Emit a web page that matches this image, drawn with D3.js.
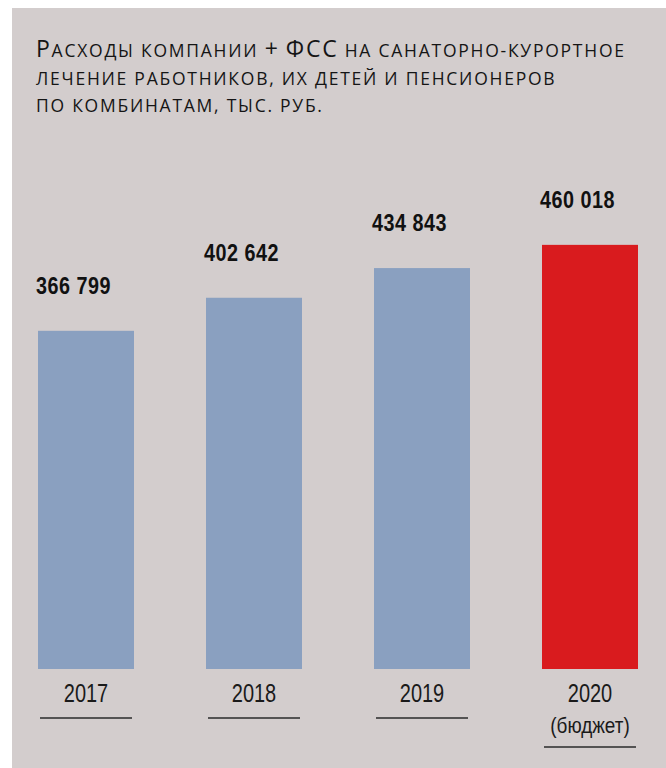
<!DOCTYPE html>
<html>
<head>
<meta charset="utf-8">
<script src="https://cdn.jsdelivr.net/npm/d3@7"></script>
<style>
  html, body { margin: 0; padding: 0; background: #fff; }
  svg { display: block; }
</style>
</head>
<body>
<script>
"use strict";

var years = ["2017", "2018", "2019", "2020"]
var values = [366799, 402642, 434843, 460018]
var notes = ["", "", "", "(бюджет)"]
var titleLines = [
    "Расходы компании + ФСС на санаторно-курортное",
    "лечение работников, их детей и пенсионеров",
    "по комбинатам, тыс. руб."
]

var width = 666
var height = 768
var baseY = 669
var narrow = "'Liberation Sans', Arial, sans-serif"

var svg = d3.select("body").append("svg")
    .attr("width", width)
    .attr("height", height)

// panel
svg.append("rect")
    .attr("x", 12)
    .attr("y", 8)
    .attr("width", width - 12)
    .attr("height", height - 8)
    .attr("fill", "#d3cdcd")

// split a line into runs of real capitals and small caps
function runs(str) {
    var out = []
    str.split("").forEach(function(ch) {
        var big = ch !== ch.toLowerCase() || ch === "+"
        var last = out[out.length - 1]
        if (last && last.big === big) last.text += ch
        else out.push({big: big, text: ch})
    })
    return out
}

var title = svg.append("g")
    .attr("font-family", "'Open Sans', 'Noto Sans', sans-serif")
    .attr("fill", "#151515")

title.selectAll("text")
    .data(titleLines)
    .enter().append("text")
    .attr("x", 36)
    .attr("y", function(d, i) { return 57 + i * 27.5 })
    .attr("letter-spacing", 1.75)
    .selectAll("tspan")
    .data(function(d) { return runs(d) })
    .enter().append("tspan")
    .attr("font-size", function(d) { return d.big ? 23 : 17.5 })
    .text(function(d) { return d.text.toUpperCase() })

var x = d3.scaleBand()
    .domain(years)
    .range([38, 638])
    .paddingInner(0.4286)
    .paddingOuter(0)

var y = d3.scaleLinear()
    .domain([0, 500000])
    .range([baseY, 208])

var fmt = function(v) {
    return d3.format(",")(v).replace(/,/g, " ")
}

var bars = svg.append("g")
    .selectAll("g")
    .data(values)
    .enter().append("g")

bars.append("rect")
    .attr("x", function(d, i) { return x(years[i]) })
    .attr("y", function(d) { return y(d) })
    .attr("width", x.bandwidth())
    .attr("height", function(d) { return baseY - y(d) })
    .attr("fill", function(d, i) { return i === 3 ? "#d91b1e" : "#8aa0c0" })

bars.append("text")
    .attr("transform", function(d, i) {
        return "translate(" + (x(years[i]) - 2) + "," + (y(d) - 37) + ") scale(0.86,1)"
    })
    .attr("font-family", narrow)
    .attr("font-weight", "bold")
    .attr("font-size", 23)
    .attr("letter-spacing", 0.6)
    .attr("fill", "#111")
    .text(function(d) { return fmt(d) })

// year labels
bars.append("text")
    .attr("transform", function(d, i) {
        return "translate(" + (x(years[i]) + x.bandwidth() / 2) + ",702) scale(0.8,1)"
    })
    .attr("text-anchor", "middle")
    .attr("font-family", narrow)
    .attr("font-size", 25)
    .attr("fill", "#1a1a1a")
    .text(function(d, i) { return years[i] })

bars.append("text")
    .attr("transform", function(d, i) {
        return "translate(" + (x(years[i]) + x.bandwidth() / 2) + ",733) scale(0.88,1)"
    })
    .attr("text-anchor", "middle")
    .attr("font-family", narrow)
    .attr("font-size", 21.5)
    .attr("fill", "#1a1a1a")
    .text(function(d, i) { return notes[i] })

bars.append("line")
    .attr("x1", function(d, i) { return x(years[i]) + 2 })
    .attr("x2", function(d, i) { return x(years[i]) + x.bandwidth() - 2 })
    .attr("y1", function(d, i) { return notes[i] ? 747 : 718 })
    .attr("y2", function(d, i) { return notes[i] ? 747 : 718 })
    .attr("stroke", "#2a2a2a")
    .attr("stroke-width", 1.5)
</script>
</body>
</html>
